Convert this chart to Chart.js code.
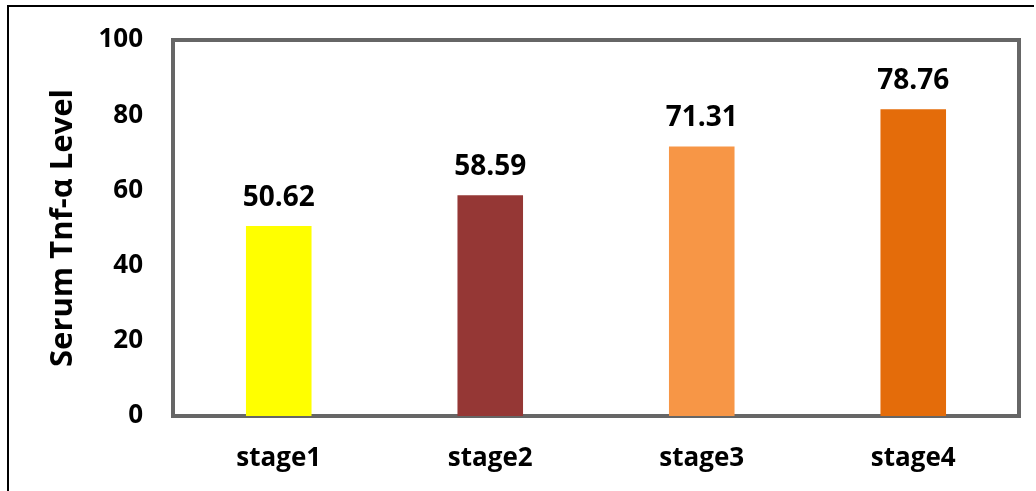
<!DOCTYPE html>
<html>
<head>
<meta charset="utf-8">
<script src="https://cdn.jsdelivr.net/npm/chart.js@4/dist/chart.umd.min.js"></script>
<style>
  html, body { margin: 0; padding: 0; background: #ffffff; }
  #c { display: block; }
</style>
</head>
<body>
<canvas id="c" width="1036" height="491"></canvas>
<script>
// ---- data ----
const categories = ["stage1", "stage2", "stage3", "stage4"];
const barValues = [50.5, 58.7, 71.7, 81.6];          // bar heights as drawn
const valueLabels = ["50.62", "58.59", "71.31", "78.76"]; // printed labels
const barColors = ["#FFFF00", "#953735", "#F79646", "#E46C0A"];
const yTicks = [0, 20, 40, 60, 80, 100];
const yTitle = "Serum Tnf-\u03B1 Level";

const FONT = "'Open Sans', 'DejaVu Sans', sans-serif";

const framePlugin = {
  id: 'frame',
  beforeDraw(chart) {
    const ctx = chart.ctx;
    ctx.save();
    ctx.fillStyle = '#ffffff';
    ctx.fillRect(0, 0, chart.width, chart.height);
    ctx.fillStyle = '#000000';
    ctx.fillRect(7, 5, chart.width - 9, 2);
    ctx.fillRect(7, 5, 2, chart.height - 5);
    ctx.restore();
  },
  beforeDatasetsDraw(chart) {
    const {ctx, chartArea: a} = chart;
    ctx.save();
    ctx.strokeStyle = '#bdbdbd';
    ctx.lineWidth = 2;
    ctx.strokeRect(a.left + 1, a.top + 1, a.right - a.left, a.bottom - a.top);
    ctx.strokeStyle = '#666666';
    ctx.lineWidth = 4;
    ctx.strokeRect(a.left, a.top, a.right - a.left, a.bottom - a.top);
    ctx.restore();
  }
};

const labelPlugin = {
  id: 'valueLabels',
  afterDatasetsDraw(chart) {
    const ctx = chart.ctx;
    const meta = chart.getDatasetMeta(0);
    ctx.save();
    ctx.font = "bold 28px " + FONT;
    ctx.fillStyle = '#000000';
    ctx.textAlign = 'center';
    ctx.textBaseline = 'alphabetic';
    meta.data.forEach((bar, i) => {
      ctx.fillText(valueLabels[i], bar.x, bar.y - 20);
    });
    ctx.restore();
  }
};

new Chart(document.getElementById('c'), {
  type: 'bar',
  data: {
    labels: categories,
    datasets: [{
      data: barValues,
      backgroundColor: barColors,
      borderWidth: 0,
      barPercentage: 0.31,
      categoryPercentage: 1.0
    }]
  },
  options: {
    responsive: false,
    animation: false,
    devicePixelRatio: 1,
    layout: { padding: { top: 40, right: 17, left: 0, bottom: 0 } },
    plugins: { legend: { display: false }, tooltip: { enabled: false } },
    scales: {
      x: {
        grid: { display: false, drawTicks: false },
        border: { display: false },
        ticks: {
          color: '#000000',
          padding: 27,
          font: { family: FONT, size: 26, weight: 'bold' }
        },
        afterFit(scale) { scale.height = 75; }
      },
      y: {
        min: 0,
        max: 100,
        afterBuildTicks(scale) { scale.ticks = yTicks.map(v => ({ value: v })); },
        grid: { display: false, drawTicks: false },
        border: { display: false },
        ticks: {
          color: '#000000',
          padding: 30,
          font: { family: FONT, size: 26, weight: 'bold' }
        },
        title: {
          display: true,
          text: yTitle,
          color: '#000000',
          font: { family: FONT, size: 31, weight: 'bold' },
          padding: { top: 45, bottom: 0 }
        },
        afterFit(scale) {
          scale.width = 173;
          scale.paddingTop = 16;
          scale.paddingBottom = 16;
        }
      }
    }
  },
  plugins: [framePlugin, labelPlugin]
});
</script>
</body>
</html>
